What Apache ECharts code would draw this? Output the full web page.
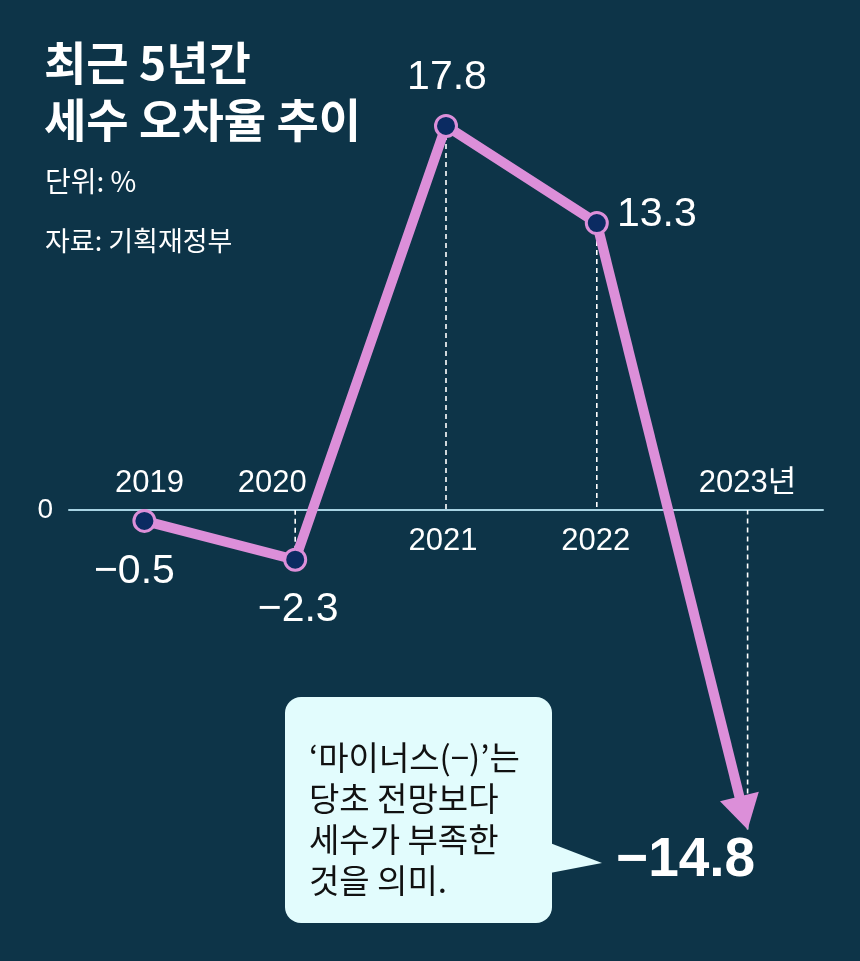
<!DOCTYPE html>
<html><head><meta charset="utf-8">
<script src="https://cdn.jsdelivr.net/npm/echarts@6/dist/echarts.min.js"></script>
<style>html,body{margin:0;padding:0;background:#0d3448;}#c{width:860px;height:961px;}</style>
</head><body><div id="c"></div>
<script>
// ---- data ----
const years = ['2019', '2020', '2021', '2022', '2023년'];
const values = [-0.5, -2.3, 17.8, 13.3, -14.8];
const zeroTickLabel = '0';
const titleLines = ['최근 5년간', '세수 오차율 추이'];
const unitText = '단위: %';
const sourceText = '자료: 기획재정부';
const noteLines = ['‘마이너스(−)’는', '당초 전망보다', '세수가 부족한', '것을 의미.'];

// ---- layout / style config ----
const yearLabelOffsets = [[5, -27], [-23, -27], [-3, 31], [-1, 31], [0, -27]];
const valueLabelOffsets = [[-10, 51], [3, 50], [1, -48], [60, -8], [-62, 31]];
const BG = '#0d3448';
const LINE = '#dc8fd9';
const MARK = '#0b2b62';
const NUM_FONT = '"Liberation Sans", Arial, "Noto Sans CJK KR", sans-serif';
const KR_FONT = '"Noto Sans CJK KR", "Noto Sans", sans-serif';

const fmt = v => (v < 0 ? '−' : '') + Math.abs(v).toFixed(1);
const last = values.length - 1;

const chart = echarts.init(document.getElementById('c'), null, {renderer: 'canvas'});

const graphics = [];
titleLines.forEach((t, i) => graphics.push({
  type: 'text', style: {x: 44, y: 63 + 57 * i, text: t, fill: '#fff', fontSize: 46, fontWeight: 'bold',
  fontFamily: KR_FONT, verticalAlign: 'middle', align: 'left'}
}));
graphics.push({type: 'text', style: {x: 45, y: 181, text: unitText, fill: '#fff', fontSize: 28,
  fontFamily: KR_FONT, verticalAlign: 'middle', align: 'left'}});
graphics.push({type: 'text', style: {x: 45, y: 241, text: sourceText, fill: '#fff', fontSize: 27,
  fontFamily: KR_FONT, verticalAlign: 'middle', align: 'left'}});
graphics.push({type: 'rect', shape: {x: 285, y: 697, width: 267, height: 226, r: 16},
  style: {fill: '#e2fcfd'}, z: 10});
graphics.push({type: 'polygon', shape: {points: [[550, 843], [602, 863], [550, 873]]},
  style: {fill: '#e2fcfd'}, z: 10});
noteLines.forEach((t, i) => graphics.push({
  type: 'text', z: 11, style: {x: 309, y: 757 + 41 * i, text: t, fill: '#111', fontSize: 33,
  fontFamily: KR_FONT, verticalAlign: 'middle', align: 'left'}
}));

const option = {
  backgroundColor: BG,
  animation: false,
  grid: {left: 69, right: 37, top: 100, bottom: 84},
  xAxis: {
    type: 'category', data: years, boundaryGap: true,
    axisLine: {onZero: true, lineStyle: {color: '#a7d3e3', width: 2}},
    axisTick: {show: false}, axisLabel: {show: false}, splitLine: {show: false}
  },
  yAxis: {
    type: 'value', min: -17, max: 19, interval: 1,
    splitLine: {show: false}, axisLine: {show: false}, axisTick: {show: false},
    axisLabel: {formatter: v => (v === 0 ? zeroTickLabel : ''), color: '#fff', fontSize: 28,
      margin: 16, fontFamily: NUM_FONT, padding: [0, 0, 6, 0]}
  },
  graphic: graphics,
  series: [
    {
      name: 'guides', type: 'custom', z: 1, silent: true,
      data: values.map((v, i) => [i, v]),
      renderItem: (params, api) => {
        const i = api.value(0), v = api.value(1);
        const p = api.coord([i, v]);
        const p0 = api.coord([i, 0]);
        return {type: 'line', shape: {x1: p[0], y1: p[1], x2: p0[0], y2: p0[1]},
          style: {stroke: '#fff', lineWidth: 1.6, lineDash: [5, 4]}};
      }
    },
    {
      name: 'arrow', type: 'custom', z: 2, silent: true, clip: false,
      encode: {x: [0, 2], y: [1, 3]},
      data: [[last - 1, values[last - 1], last, values[last]]],
      renderItem: (params, api) => {
        const a = api.coord([api.value(0), api.value(1)]);
        const b = api.coord([api.value(2), api.value(3)]);
        const dx = b[0] - a[0], dy = b[1] - a[1];
        const L = Math.hypot(dx, dy), ux = dx / L, uy = dy / L;
        const hl = 34, hw = 20;
        const bx = b[0] - ux * hl, by = b[1] - uy * hl;
        return {type: 'group', children: [
          {type: 'line', shape: {x1: a[0], y1: a[1], x2: bx + ux * 4, y2: by + uy * 4},
            style: {stroke: LINE, lineWidth: 10}},
          {type: 'polygon', shape: {points: [[b[0], b[1]], [bx - uy * hw, by + ux * hw], [bx + uy * hw, by - ux * hw]]},
            style: {fill: LINE}}
        ]};
      }
    },
    {
      name: 'rate', type: 'line', z: 3,
      data: values.map((v, i) => (i < last ? v : '-')),
      symbol: 'circle', symbolSize: 21, showSymbol: true,
      lineStyle: {color: LINE, width: 10},
      itemStyle: {color: MARK, borderColor: LINE, borderWidth: 3}
    },
    {
      name: 'valueLabels', type: 'scatter', z: 5, silent: true,
      symbolSize: 1, itemStyle: {color: 'rgba(0,0,0,0)', opacity: 1},
      data: values.map((v, i) => ({
        value: [i, v],
        label: Object.assign({offset: valueLabelOffsets[i]},
          i === last ? {fontSize: 55, fontWeight: 'bold'} : {})
      })),
      label: {show: true, position: 'inside', formatter: p => fmt(p.value[1]), color: '#fff',
        fontSize: 41, fontFamily: NUM_FONT}
    },
    {
      name: 'yearLabels', type: 'scatter', z: 5, silent: true,
      symbolSize: 1, itemStyle: {color: 'rgba(0,0,0,0)', opacity: 1},
      data: years.map((y, i) => ({value: [i, 0], label: {offset: yearLabelOffsets[i]}})),
      label: {show: true, position: 'inside', formatter: p => years[p.dataIndex], color: '#fff',
        fontSize: 31, fontFamily: NUM_FONT}
    }
  ]
};
chart.setOption(option);
</script></body></html>
